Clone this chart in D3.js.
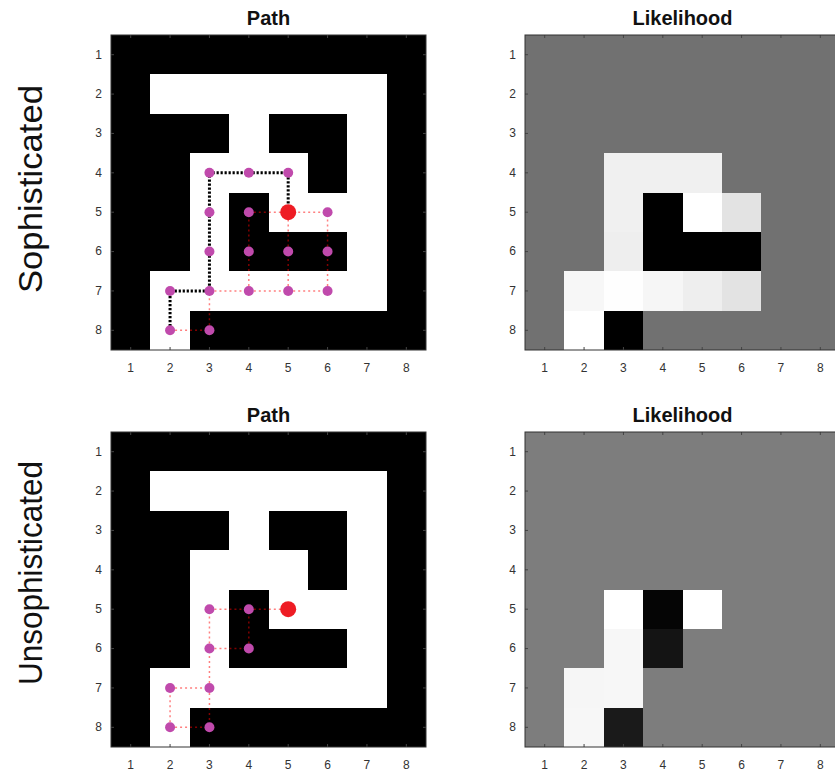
<!DOCTYPE html>
<html>
<head>
<meta charset="utf-8">
<script src="https://cdn.jsdelivr.net/npm/d3@7"></script>
<style>
  html, body { margin: 0; padding: 0; background: #fff; }
  svg { display: block; }
</style>
</head>
<body>
<svg id="chart" width="835" height="774"></svg>
<script>
// ---------------- DATA ----------------
const gridIndex = [1, 2, 3, 4, 5, 6, 7, 8];
const tickLabels = ["1", "2", "3", "4", "5", "6", "7", "8"];
const rowLabels = ["Sophisticated", "Unsophisticated"];
const panelTitles = ["Path", "Likelihood"];

// maze: 1 = open (white), 0 = wall (black); rows 1..8 top to bottom
const maze = [
  [0,0,0,0,0,0,0,0],
  [0,1,1,1,1,1,1,0],
  [0,0,0,1,0,0,1,0],
  [0,0,1,1,1,0,1,0],
  [0,0,1,0,1,1,1,0],
  [0,0,1,0,0,0,1,0],
  [0,1,1,1,1,1,1,0],
  [0,1,0,0,0,0,0,0]
];

// goal (red dot) [col,row]
const goal = [5, 5];

// Sophisticated: explored nodes [col,row]
const sophNodes = [[3,4],[4,4],[5,4],[3,5],[4,5],[6,5],[3,6],[4,6],[5,6],[6,6],
                   [2,7],[3,7],[4,7],[5,7],[6,7],[2,8],[3,8]];
// explored edges (red dotted)
const sophEdges = [[[2,8],[3,8]],[[3,8],[3,7]],[[3,7],[4,7]],[[4,7],[5,7]],[[5,7],[6,7]],
                   [[4,7],[4,6]],[[4,6],[4,5]],[[5,7],[5,6]],[[5,6],[5,5]],
                   [[6,7],[6,6]],[[6,6],[6,5]],[[4,5],[5,5]],[[5,5],[6,5]]];
// chosen path (black dotted)
const sophPath = [[2,8],[2,7],[3,7],[3,4],[5,4],[5,5]];

// Unsophisticated
const unsophNodes = [[3,5],[4,5],[3,6],[4,6],[2,7],[3,7],[2,8],[3,8]];
const unsophEdges = [[[2,8],[3,8]],[[2,8],[2,7]],[[2,7],[3,7]],[[3,7],[3,8]],
                     [[3,7],[3,6]],[[3,6],[3,5]],[[3,6],[4,6]],[[4,6],[4,5]],
                     [[3,5],[4,5]],[[4,5],[5,5]]];
const unsophPath = [];

// likelihood maps (0 = black, 1 = white)
const a = 0.445;
const sophLikelihood = [
  [a,a,a,a,a,a,a,a],
  [a,a,a,a,a,a,a,a],
  [a,a,a,a,a,a,a,a],
  [a,a,0.94,0.94,0.94,a,a,a],
  [a,a,0.94,0,1.0,0.89,a,a],
  [a,a,0.935,0,0,0,a,a],
  [a,0.97,0.995,0.965,0.935,0.89,a,a],
  [a,1.0,0,a,a,a,a,a]
];
const b = 0.49;
const unsophLikelihood = [
  [b,b,b,b,b,b,b,b],
  [b,b,b,b,b,b,b,b],
  [b,b,b,b,b,b,b,b],
  [b,b,b,b,b,b,b,b],
  [b,b,1.0,0.02,1.0,b,b,b],
  [b,b,0.97,0.08,b,b,b,b],
  [b,0.965,0.97,b,b,b,b,b],
  [b,0.97,0.1,b,b,b,b,b]
];

// ---------------- DRAW ----------------
const svg = d3.select("#chart");
const size = 315;
const colX = [111, 525];
const rowY = [35, 432];

const gray = d3.scaleLinear().domain([0, 1]).range(["#000000", "#ffffff"]);

const rows = [
  {label: rowLabels[0], nodes: sophNodes, edges: sophEdges, path: sophPath, lik: sophLikelihood, labelY: 189, len: 208},
  {label: rowLabels[1], nodes: unsophNodes, edges: unsophEdges, path: unsophPath, lik: unsophLikelihood, labelY: 573, len: 224}
];

rows.forEach((r, ri) => {
  // row label
  svg.append("text")
    .attr("transform", `translate(42,${r.labelY}) rotate(-90)`)
    .attr("text-anchor", "middle")
    .attr("font-family", "'Liberation Sans', Arial, sans-serif")
    .attr("font-size", 34)
    .attr("textLength", r.len)
    .attr("lengthAdjust", "spacingAndGlyphs")
    .attr("fill", "#111")
    .text(r.label);

  [0, 1].forEach(ci => {
    const g = svg.append("g").attr("transform", `translate(${colX[ci]},${rowY[ri]})`);
    const x = d3.scaleBand().domain(gridIndex).range([0, size]);
    const y = d3.scaleBand().domain(gridIndex).range([0, size]);
    const cx = v => x(v) + x.bandwidth() / 2;
    const cy = v => y(v) + y.bandwidth() / 2;

    const cells = [];
    gridIndex.forEach((rv, i) => gridIndex.forEach((cv, j) => {
      cells.push({c: cv, r: rv, v: ci === 0 ? maze[i][j] : r.lik[i][j]});
    }));

    // background to avoid seams
    g.append("rect").attr("width", size).attr("height", size)
      .attr("fill", ci === 0 ? "#000" : gray(r.lik[0][0]));

    g.selectAll("rect.cell").data(cells).join("rect")
      .attr("class", "cell")
      .attr("shape-rendering", "crispEdges")
      .attr("x", d => Math.round(x(d.c)))
      .attr("y", d => Math.round(y(d.r)))
      .attr("width", d => Math.round(x(d.c) + x.bandwidth()) - Math.round(x(d.c)))
      .attr("height", d => Math.round(y(d.r) + y.bandwidth()) - Math.round(y(d.r)))
      .attr("fill", d => ci === 0 ? (d.v ? "#ffffff" : "#000000") : gray(d.v));

    if (ci === 0) {
      // explored edges
      g.selectAll("line.edge").data(r.edges).join("line")
        .attr("class", "edge")
        .attr("x1", d => cx(d[0][0])).attr("y1", d => cy(d[0][1]))
        .attr("x2", d => cx(d[1][0])).attr("y2", d => cy(d[1][1]))
        .attr("stroke", "#ff0000")
        .attr("stroke-opacity", 0.5)
        .attr("stroke-width", 1.5)
        .attr("stroke-dasharray", "2,3");
      // chosen path
      if (r.path.length) {
        g.append("path")
          .attr("d", d3.line().x(d => cx(d[0])).y(d => cy(d[1]))(r.path))
          .attr("fill", "none")
          .attr("stroke", "#000")
          .attr("stroke-width", 3)
          .attr("stroke-dasharray", "2.2,1.8");
      }
      // nodes
      g.selectAll("circle.node").data(r.nodes).join("circle")
        .attr("class", "node")
        .attr("cx", d => cx(d[0])).attr("cy", d => cy(d[1]))
        .attr("r", 5)
        .attr("fill", "#c04aac");
      // goal
      g.append("circle")
        .attr("cx", cx(goal[0])).attr("cy", cy(goal[1]))
        .attr("r", 8)
        .attr("fill", "#ee1c24");
    }

    // axes: ticks inward on all sides
    const tickG = g.append("g");
    gridIndex.forEach(v => {
      tickG.append("line").attr("x1", cx(v)).attr("x2", cx(v)).attr("y1", size).attr("y2", size - 3);
      tickG.append("line").attr("x1", cx(v)).attr("x2", cx(v)).attr("y1", 0).attr("y2", 3);
      tickG.append("line").attr("y1", cy(v)).attr("y2", cy(v)).attr("x1", 0).attr("x2", 3);
      tickG.append("line").attr("y1", cy(v)).attr("y2", cy(v)).attr("x1", size).attr("x2", size - 3);
    });
    tickG.selectAll("line").attr("stroke", "#444").attr("stroke-width", 1);

    const xAxis = d3.axisBottom(x).tickSize(0).tickPadding(13).tickFormat((d, i) => tickLabels[i]);
    const yAxis = d3.axisLeft(y).tickSize(0).tickPadding(9).tickFormat((d, i) => tickLabels[i]);
    const xa = g.append("g").attr("transform", `translate(0,${size})`).call(xAxis);
    const ya = g.append("g").call(yAxis);
    [xa, ya].forEach(ax => {
      ax.select(".domain").remove();
      ax.selectAll("text")
        .attr("font-family", "'Liberation Sans', Arial, sans-serif")
        .attr("font-size", 12)
        .attr("fill", "#333");
    });

    // frame
    g.append("rect")
      .attr("x", 0).attr("y", 0).attr("width", size).attr("height", size)
      .attr("fill", "none").attr("stroke", "#333").attr("stroke-width", 1);

    // title
    g.append("text")
      .attr("x", size / 2)
      .attr("y", -10)
      .attr("text-anchor", "middle")
      .attr("font-family", "'Liberation Sans', Arial, sans-serif")
      .attr("font-weight", "bold")
      .attr("font-size", 20)
      .attr("fill", "#111")
      .text(panelTitles[ci]);
  });
});
</script>
</body>
</html>
